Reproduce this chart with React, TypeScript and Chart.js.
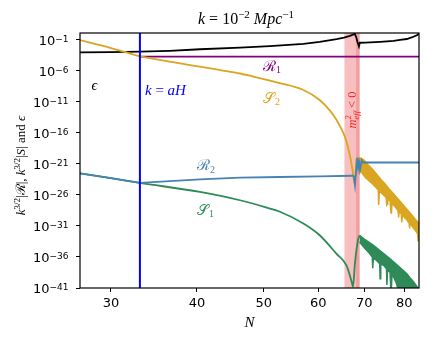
import React, { useEffect, useRef } from 'react';
import { Chart, registerables } from 'chart.js';

Chart.register(...registerables);

// ---- axis limits & ticks ----
const X_MIN = 27.05;
const X_MAX = 84.05;
const Y_MIN_EXP = -41;
const Y_MAX_EXP = 0.12;
const X_TICKS = [30, 40, 50, 60, 70, 80];
const Y_TICK_EXPS = [-41, -36, -31, -26, -21, -16, -11, -6, -1];

// ---- markers ----
const HORIZON_N = 33.05; // k = aH
const TACHYONIC_SPANS: number[][] = [[65.5, 68.9], [68.1, 68.9]];

// ---- series (N, log10 of value) ----
const EPS_N = [27.0, 30, 33.05, 36.5, 40.4, 46.2, 51.05, 57.1, 60.3, 63.8, 65.4, 66.7, 67.4, 67.8, 68.1, 68.4, 68.75, 68.95, 70.2, 73.8, 77.2, 78.9, 80.7, 82.0, 83.6, 84.1];
const EPS_L = [-2.99, -2.95, -2.89, -2.75, -2.5, -2.25, -2.0, -1.65, -1.3, -0.85, -0.62, -0.35, -0.14, -0.02, -0.5, -1.3, -2.05, -1.45, -1.42, -1.3, -1.16, -1.0, -0.85, -0.6, -0.2, 0.08];

const R1_N = [33.05, 84.1];
const R1_L = [-3.7, -3.7];

const S2_N = [27.0, 30, 31.4, 33.05, 36.5, 40.4, 43.2, 46.2, 48.3, 51.05, 52.8, 57.1, 60.3, 62.4, 63.8, 65.6, 66.7, 67.3, 67.85,
  68.0, 68.15, 68.3, 68.45, 68.6, 68.75, 68.9, 69.05];
const S2_L = [-1.0, -2.3, -2.93, -3.62, -4.5, -5.3, -5.85, -6.41, -6.9, -7.54, -7.95, -9.08, -10.69, -12.4, -13.92, -16.62, -19.58, -22.0, -24.4,
  -22.2, -20.1, -21.4, -19.9, -21.7, -20.0, -22.6, -20.1];
// noisy late-time envelope of S2
const S2_TOP_N = [68.9, 69.5, 70, 71, 72, 73, 74, 75, 76, 77, 78, 79, 80, 81, 82, 83, 84.1];
const S2_TOP_L = [-20.0, -20.2, -20.4, -21.2, -21.9, -22.7, -23.5, -24.2, -25.0, -25.7, -26.4, -27.1, -27.8, -28.5, -29.2, -29.9, -30.6];
const S2_BOT_N = [68.9, 69.6, 70.3, 71.3, 72.1, 72.8, 73.35, 73.45, 73.6, 74.5, 75.3, 75.45, 75.55, 75.7, 76.3, 76.55, 76.65, 76.8, 77.6, 78.2,
  78.4, 78.5, 78.65, 79.2, 79.3, 79.4, 79.5, 80.3, 80.7, 81.0, 81.3, 81.4, 81.55, 82.1, 83.0, 83.5, 83.7, 83.8, 84.1];
const S2_BOT_L = [-21.8, -22.6, -23.2, -23.8, -24.3, -24.8, -25.2, -27.6, -25.3, -25.9, -26.4, -27.6, -27.5, -26.6, -27.0, -28.9, -28.8, -27.3, -27.9, -28.4,
  -28.6, -29.6, -28.7, -29.0, -30.4, -30.3, -29.2, -29.8, -30.0, -30.3, -30.5, -31.4, -30.6, -31.0, -31.7, -32.1, -32.4, -33.4, -33.4];

const S1_N = [27.0, 30, 33.05, 40.4, 46.2, 51.05, 52.8, 57.1, 60.3, 63.8, 65.97, 67.1, 67.4, 67.85, 68.5, 68.9];
const S1_L = [-22.5, -23.3, -24.05, -25.5, -26.85, -28.2, -28.7, -30.6, -32.5, -35.5, -37.4, -40.0, -40.8, -37.0, -33.4, -32.5];
// noisy late-time envelope of S1
const S1_TOP_N = [68.9, 70.0, 72.1, 74.2, 76.3, 78.5, 80.7, 81.5, 82.5, 83.5, 84.1];
const S1_TOP_L = [-32.5, -33.1, -34.1, -35.2, -36.3, -37.5, -38.7, -39.3, -40.0, -40.8, -41.3];
const S1_BOT_N = [68.9, 70.0, 71.2, 71.9, 72.0, 72.15, 73.0, 73.7, 73.8, 73.95, 74.6, 75.4, 75.5, 75.65, 76.3, 76.55, 76.65, 76.8, 77.2, 77.9,
  78.5, 84.1];
const S1_BOT_L = [-33.6, -34.5, -35.4, -36.0, -37.8, -36.1, -36.6, -37.1, -39.5, -37.2, -37.3, -37.9, -40.5, -38.0, -38.5, -42.0, -42.0, -38.9, -39.2, -40.2,
  -41.5, -41.5];

const R2_N = [27.0, 30, 33.05, 40.4, 46.2, 52.8, 60.3, 67.3, 67.6, 67.85, 68.05, 68.4, 68.6, 68.8, 69.0, 69.4, 69.7, 84.1];
const R2_L = [-22.5, -23.3, -24.05, -23.5, -23.2, -23.1, -23.0, -22.9, -23.0, -24.4, -22.6, -20.0, -21.6, -20.8, -21.9, -20.4, -20.76, -20.76];

// ---- colours ----
const C_EPS = '#000000';
const C_R1 = '#800080';
const C_S2 = '#DAA520';
const C_S1 = '#2E8B57';
const C_R2 = '#4682B4';
const C_HOR = '#0000FF';

const SERIF = "'Liberation Serif', 'DejaVu Serif', serif";
const SANS = "'DejaVu Sans', sans-serif";

type Seg = { t: string; f: string; dy?: number };

function segWidth(ctx: CanvasRenderingContext2D, segs: Seg[]) {
  let w = 0;
  for (const s of segs) {
    ctx.font = s.f;
    w += ctx.measureText(s.t).width;
  }
  return w;
}

function drawRich(ctx: CanvasRenderingContext2D, segs: Seg[], x: number, y: number, align: 'left' | 'center' | 'right', color: string) {
  const w = segWidth(ctx, segs);
  let cx = align === 'left' ? x : align === 'center' ? x - w / 2 : x - w;
  ctx.fillStyle = color;
  ctx.textAlign = 'left';
  ctx.textBaseline = 'alphabetic';
  for (const s of segs) {
    ctx.font = s.f;
    ctx.fillText(s.t, cx, y + (s.dy || 0));
    cx += ctx.measureText(s.t).width;
  }
}

const pts = (ns: number[], ls: number[]) => ns.map((n, i) => ({ x: n, y: Math.pow(10, ls[i]) }));

const decor = {
  id: 'decor',
  beforeDatasetsDraw(chart: any) {
    const { ctx, chartArea: a, scales } = chart;
    const x = scales.x;
    ctx.save();
    ctx.fillStyle = 'rgba(240,128,128,0.5)';
    for (const [n0, n1] of TACHYONIC_SPANS) {
      const p0 = x.getPixelForValue(n0);
      const p1 = x.getPixelForValue(n1);
      ctx.fillRect(p0, a.top, p1 - p0, a.bottom - a.top);
    }
    ctx.restore();
  },
  afterDraw(chart: any) {
    const { ctx, chartArea: a, scales } = chart;
    const y = scales.y;
    ctx.save();
    // frame
    ctx.strokeStyle = '#000';
    ctx.lineWidth = 1.2;
    ctx.strokeRect(a.left, a.top, a.right - a.left, a.bottom - a.top);

    // y tick labels 10^e
    for (const e of Y_TICK_EXPS) {
      const py = y.getPixelForValue(Math.pow(10, e));
      drawRich(ctx, [
        { t: '10', f: `13px ${SANS}` },
        { t: '\u2212' + Math.abs(e), f: `9px ${SANS}`, dy: -3.6 },
      ], 68.5, py + 5.4, 'right', '#000');
    }

    // title
    drawRich(ctx, [
      { t: 'k', f: `italic 16px ${SERIF}` },
      { t: ' = ', f: `16px ${SERIF}` },
      { t: '10', f: `16px ${SERIF}` },
      { t: '\u22122', f: `11px ${SERIF}`, dy: -6 },
      { t: ' Mpc', f: `italic 16px ${SERIF}` },
      { t: '\u22121', f: `11px ${SERIF}`, dy: -6 },
    ], 246, 23.5, 'center', '#000');

    // x label
    drawRich(ctx, [{ t: 'N', f: `italic 15px ${SERIF}` }], (a.left + a.right) / 2, 326.5, 'center', '#000');

    // y label (rotated)
    ctx.save();
    ctx.translate(24.5, 165.5);
    ctx.rotate(-Math.PI / 2);
    drawRich(ctx, [
      { t: 'k', f: `italic 13px ${SERIF}` },
      { t: '3/2', f: `9px ${SERIF}`, dy: -5 },
      { t: '|', f: `13px ${SERIF}` },
      { t: '\u211B', f: `13px ${SERIF}` },
      { t: '|, ', f: `13px ${SERIF}` },
      { t: 'k', f: `italic 13px ${SERIF}` },
      { t: '3/2', f: `9px ${SERIF}`, dy: -5 },
      { t: '|', f: `13px ${SERIF}` },
      { t: 'S', f: `italic 13px ${SERIF}` },
      { t: '| and ', f: `13px ${SERIF}` },
      { t: '\u03F5', f: `italic 13px ${SERIF}` },
    ], 0, 0, 'center', '#000');
    ctx.restore();

    // m^2_eff < 0 label (rotated)
    ctx.save();
    const bandMid = (scales.x.getPixelForValue(TACHYONIC_SPANS[0][0]) + scales.x.getPixelForValue(TACHYONIC_SPANS[0][1])) / 2;
    ctx.translate(bandMid + 4, 110);
    ctx.rotate(-Math.PI / 2);
    {
      const fm = `italic 12.5px ${SERIF}`;
      const fs = `italic 8.5px ${SERIF}`;
      const fr = `12.5px ${SERIF}`;
      ctx.font = fm; const wm = ctx.measureText('m').width;
      ctx.font = fs; const we = ctx.measureText('eff').width;
      ctx.font = fr; const wr = ctx.measureText(' < 0').width;
      const total = wm + we + wr;
      let cx = -total / 2;
      ctx.fillStyle = '#ff2020';
      ctx.textBaseline = 'alphabetic';
      ctx.textAlign = 'left';
      ctx.font = fm; ctx.fillText('m', cx, 0); cx += wm;
      ctx.font = `8.5px ${SERIF}`; ctx.fillText('2', cx, -5.5);
      ctx.font = fs; ctx.fillText('eff', cx, 3); cx += we;
      ctx.font = fr; ctx.fillText(' < 0', cx, 0);
    }
    ctx.restore();

    // curve annotations
    drawRich(ctx, [{ t: '\u03F5', f: `italic 14px ${SERIF}` }], 91.5, 90, 'left', C_EPS);
    drawRich(ctx, [
      { t: 'k', f: `italic 15px ${SERIF}` },
      { t: ' = ', f: `15px ${SERIF}` },
      { t: 'aH', f: `italic 15px ${SERIF}` },
    ], 145, 95, 'left', C_HOR);
    drawRich(ctx, [{ t: '\u211B', f: `15px ${SERIF}` }, { t: '1', f: `10px ${SERIF}`, dy: 2.5 }], 263, 70.5, 'left', C_R1);
    drawRich(ctx, [{ t: '\uD835\uDCAE', f: `15px ${SERIF}` }, { t: '2', f: `10px ${SERIF}`, dy: 2.5 }], 263, 102.5, 'left', C_S2);
    drawRich(ctx, [{ t: '\u211B', f: `15px ${SERIF}` }, { t: '2', f: `10px ${SERIF}`, dy: 2.5 }], 197, 170, 'left', C_R2);
    drawRich(ctx, [{ t: '\uD835\uDCAE', f: `15px ${SERIF}` }, { t: '1', f: `10px ${SERIF}`, dy: 2.5 }], 197, 214.5, 'left', C_S1);

    ctx.restore();
  },
};

export default function App() {
  const ref = useRef<HTMLCanvasElement | null>(null);
  useEffect(() => {
    if (!ref.current) return;
    const line = (data: any[], color: string, width = 1.8, smooth = true, fill: any = false) => ({
      data,
      borderColor: color,
      backgroundColor: color,
      borderWidth: width,
      showLine: true,
      pointRadius: 0,
      fill,
      tension: 0,
      cubicInterpolationMode: smooth ? 'monotone' : 'default',
    });
    const chart = new Chart(ref.current, {
      type: 'scatter',
      data: {
        datasets: [
          line([{ x: HORIZON_N, y: Math.pow(10, Y_MIN_EXP) }, { x: HORIZON_N, y: Math.pow(10, Y_MAX_EXP) }], C_HOR, 2, false),
          line(pts(R2_N, R2_L), C_R2, 1.8, false),
          line(pts(S1_TOP_N, S1_TOP_L), C_S1, 1.5, false, '+1'),
          line(pts(S1_BOT_N, S1_BOT_L), C_S1, 1.5, false),
          line(pts(S1_N, S1_L), C_S1),
          line(pts(S2_TOP_N, S2_TOP_L), C_S2, 1.5, false, '+1'),
          line(pts(S2_BOT_N, S2_BOT_L), C_S2, 1.5, false),
          line(pts(S2_N, S2_L), C_S2),
          line(pts(R1_N, R1_L), C_R1),
          line(pts(EPS_N, EPS_L), C_EPS, 1.8, false),
        ] as any,
      },
      options: {
        animation: false,
        responsive: false,
        devicePixelRatio: 1,
        layout: { padding: { top: 33, right: 15, left: 0, bottom: 0 } },
        plugins: { legend: { display: false }, tooltip: { enabled: false }, title: { display: false } },
        scales: {
          x: {
            type: 'logarithmic',
            min: X_MIN,
            max: X_MAX,
            afterBuildTicks: (s: any) => { s.ticks = X_TICKS.map((v) => ({ value: v })); },
            afterFit: (s: any) => { s.height = 52; },
            ticks: {
              callback: (v: any) => String(v),
              color: '#000',
              font: { family: 'DejaVu Sans', size: 13 },
              maxRotation: 0,
              autoSkip: false,
              padding: 4,
            },
            grid: { drawOnChartArea: false, drawTicks: true, tickLength: 4, tickColor: '#000', tickWidth: 1 },
            border: { display: false },
          },
          y: {
            type: 'logarithmic',
            min: Math.pow(10, Y_MIN_EXP),
            max: Math.pow(10, Y_MAX_EXP),
            afterBuildTicks: (s: any) => { s.ticks = Y_TICK_EXPS.map((e) => ({ value: Math.pow(10, e) })); },
            afterFit: (s: any) => { s.width = 80; },
            ticks: { display: false },
            grid: { drawOnChartArea: false, drawTicks: true, tickLength: 4, tickColor: '#000', tickWidth: 1 },
            border: { display: false },
          },
        },
      } as any,
      plugins: [decor],
    });
    return () => chart.destroy();
  }, []);
  return (
    <div style={{ position: 'fixed', left: 0, top: 0, width: 434, height: 340, background: '#fff' }}>
      <canvas ref={ref} width={434} height={340} />
    </div>
  );
}
